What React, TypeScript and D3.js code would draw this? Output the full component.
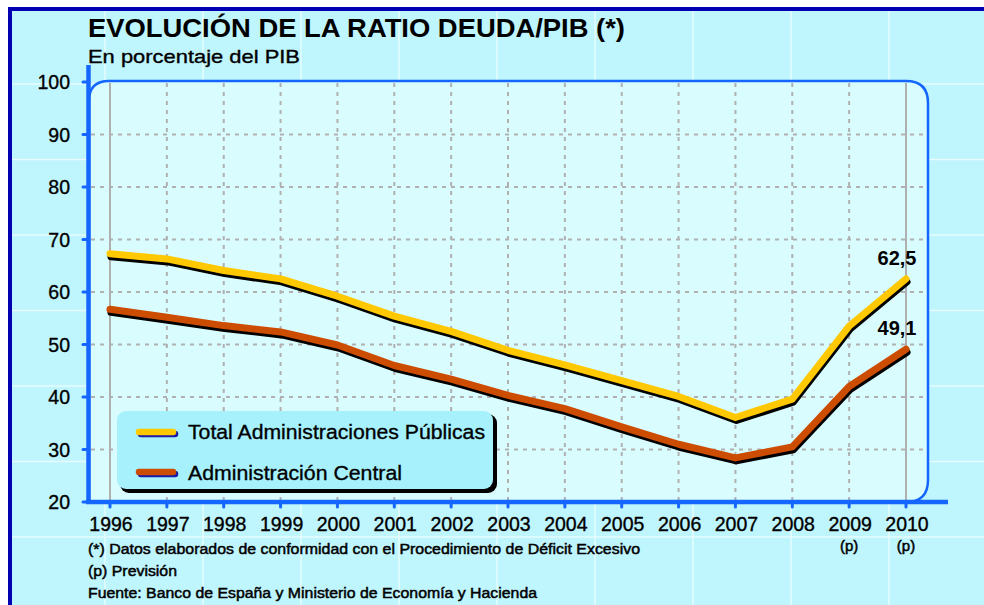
import * as d3 from 'd3'

const years = ['1996', '1997', '1998', '1999', '2000', '2001', '2002', '2003', '2004', '2005', '2006', '2007', '2008', '2009', '2010']
const forecastYears = ['2009', '2010']
const totalAAPP = [67.3, 66.3, 64.1, 62.5, 59.2, 55.4, 52.5, 48.9, 46.1, 43.1, 40.1, 36.1, 39.6, 53.5, 62.5]
const centralAdmin = [56.7, 55.2, 53.6, 52.4, 49.9, 46.0, 43.4, 40.3, 37.8, 34.3, 31.0, 28.4, 30.5, 42.0, 49.1]
const yTicks = [20, 30, 40, 50, 60, 70, 80, 90, 100]
const seriesNames = ['Total Administraciones Públicas', 'Administración Central']
const endLabels = ['62,5', '49,1']
const footnotes = [
  '(*) Datos elaborados de conformidad con el Procedimiento de Déficit Excesivo',
  '(p) Previsión',
  'Fuente: Banco de España y Ministerio de Economía y Hacienda',
]

const W = 984
const H = 605
const FONT = '"Liberation Sans", Arial, sans-serif'
const AXIS = '#1466ff'
const GRID = '#b0b0b0'
const colors = ['#ffc800', '#cc4c00']

// widths of the original (wider) typeface
const legendWidths = [297, 214]
const footWidths = [552, 89, 449]

export default function App() {
  const x = d3.scaleLinear().domain([0, years.length - 1]).range([110, 906])
  const y = d3.scaleLinear().domain([20, 100]).range([502, 82])
  const line = d3.line<number>().x((_, i) => x(i)).y((d) => y(d))
  const series = [totalAAPP, centralAdmin]

  const left = 89
  const top = y(100) - 1
  const right = 928
  const bottom = y(20)
  const plotPath = `M${left},${bottom} L${left},${top + 20} Q${left},${top} ${left + 20},${top} L${right - 22},${top} Q${right},${top} ${right},${top + 22} L${right},${bottom - 22} Q${right},${bottom} ${right - 22},${bottom} Z`

  // decorative white pattern behind everything
  const bgV = d3.range(105, W, 98)
  const bgH = d3.range(84, H, 75.5)

  const thin = { stroke: '#000', strokeWidth: 0.35 }

  return (
    <div style={{ position: 'fixed', left: 0, top: 0 }}>
      <svg width={W} height={H} style={{ display: 'block', fontFamily: FONT }}>
        <rect x={0} y={0} width={W} height={H} fill="#fff" />
        <rect x={10} y={9} width={W + 20} height={H + 20} fill="#bff5fd" stroke="#0000b0" strokeWidth={4} />
        {bgV.map((v) => (
          <line key={'v' + v} x1={v} x2={v} y1={11} y2={H} stroke="#e6fcff" strokeWidth={1.5} />
        ))}
        {bgH.map((v) => (
          <line key={'h' + v} x1={12} x2={W} y1={v} y2={v} stroke="#e6fcff" strokeWidth={1.5} />
        ))}

        <text x={88} y={37} fontSize={25} fontWeight="bold" textLength={537} lengthAdjust="spacingAndGlyphs">EVOLUCIÓN DE LA RATIO DEUDA/PIB (*)</text>
        <text x={88} y={63} fontSize={19} textLength={212} lengthAdjust="spacingAndGlyphs" {...thin}>En porcentaje del PIB</text>

        <path d={plotPath} fill="#d9fcff" stroke={AXIS} strokeWidth={2.5} />

        {yTicks.slice(1, -1).map((t) => (
          <line key={'gy' + t} x1={left + 2} x2={right - 1} y1={y(t)} y2={y(t)} stroke={GRID} strokeWidth={2} strokeDasharray="4,5" />
        ))}
        {years.map((yr, i) => {
          const edge = i === 0 || i === years.length - 1
          return (
            <line key={'gx' + yr} x1={x(i)} x2={x(i)} y1={top + 2} y2={bottom - 2} stroke={GRID} strokeWidth={2} strokeDasharray={edge ? undefined : '4,5'} />
          )
        })}

        <line x1={88.5} x2={88.5} y1={65} y2={504} stroke={AXIS} strokeWidth={4.5} />
        <line x1={86} x2={948} y1={bottom} y2={bottom} stroke={AXIS} strokeWidth={4.5} />
        {yTicks.map((t) => (
          <g key={'ty' + t}>
            <line x1={83} x2={88} y1={y(t)} y2={y(t)} stroke={AXIS} strokeWidth={3} strokeLinecap="round" />
            <text x={70} y={y(t)} dy="0.36em" textAnchor="end" fontSize={19.5} {...thin}>{t}</text>
          </g>
        ))}
        {years.map((yr, i) => (
          <g key={'tx' + yr}>
            <line x1={x(i)} x2={x(i)} y1={bottom} y2={bottom + 5} stroke={AXIS} strokeWidth={3} strokeLinecap="round" />
            <text x={x(i) + 1} y={531} textAnchor="middle" fontSize={19.5} {...thin}>{yr}</text>
            {forecastYears.includes(yr) && (
              <text x={x(i)} y={551} textAnchor="middle" fontSize={15} {...thin} strokeWidth={0.5}>(p)</text>
            )}
          </g>
        ))}

        {series.map((s, k) => (
          <g key={'s' + k}>
            <path d={line(s) ?? ''} transform="translate(1,3)" fill="none" stroke="#000" strokeWidth={7} strokeLinejoin="round" strokeLinecap="round" />
            <path d={line(s) ?? ''} fill="none" stroke={colors[k]} strokeWidth={7} strokeLinejoin="round" strokeLinecap="round" />
            <text x={x(s.length - 1) - 9} y={y(s[s.length - 1]) - 14} textAnchor="middle" fontSize={20} fontWeight="bold">{endLabels[k]}</text>
          </g>
        ))}

        <rect x={120} y={414} width={377} height={79} rx={9} fill="#000" />
        <rect x={117} y={411} width={376} height={78} rx={9} fill="#a6f1fc" />
        {seriesNames.map((n, k) => (
          <g key={'l' + k}>
            <line x1={141} x2={175} y1={434 + k * 40} y2={434 + k * 40} stroke="#1a1aa8" strokeWidth={6.5} strokeLinecap="round" />
            <line x1={139} x2={173} y1={432 + k * 40} y2={432 + k * 40} stroke={colors[k]} strokeWidth={6.5} strokeLinecap="round" />
            <text x={188} y={439 + k * 41} fontSize={20.5} textLength={legendWidths[k]} lengthAdjust="spacingAndGlyphs" {...thin}>{n}</text>
          </g>
        ))}

        {footnotes.map((f, i) => (
          <text key={'f' + i} x={88} y={554 + i * 22} fontSize={15.5} textLength={footWidths[i]} lengthAdjust="spacingAndGlyphs" {...thin} strokeWidth={0.5}>{f}</text>
        ))}
      </svg>
    </div>
  )
}
